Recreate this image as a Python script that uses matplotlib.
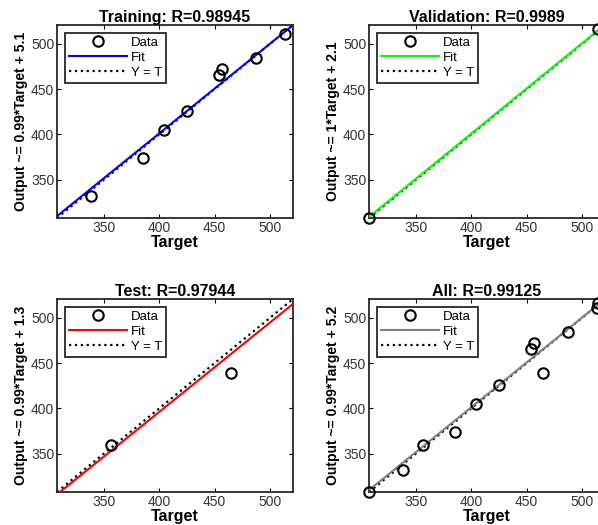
import numpy as np
import matplotlib
matplotlib.use("Agg")
import matplotlib.pyplot as plt

plt.rcParams['font.family'] = ['Liberation Sans', 'DejaVu Sans']

# ------------------------------
# Data
# ------------------------------
train_target = [338.5, 385.3, 404.3, 425.1, 453.7, 457.1, 487.8, 514.1]
train_output = [331.5, 374.1, 404.4, 426.3, 465.9, 472.2, 484.4, 511.4]

val_target = [307.4, 515.0]
val_output = [307.4, 516.6]

test_target = [356.5, 464.7]
test_output = [359.6, 439.6]

all_target = train_target + val_target + test_target
all_output = train_output + val_output + test_output

titles = ['Training: R=0.98945', 'Validation: R=0.9989',
          'Test: R=0.97944', 'All: R=0.99125']
ylabels = ['Output ~= 0.99*Target + 5.1', 'Output ~= 1*Target + 2.1',
           'Output ~= 0.99*Target + 1.3', 'Output ~= 0.99*Target + 5.2']
slopes = [0.99, 0.997, 0.987, 0.99]
intercepts = [5.1, 2.1, 1.3, 5.2]
fit_colors = ['#0000ff', '#00ff00', '#ff0000', '#808080']

lim = (307.4, 521.0)
ticks = [350, 400, 450, 500]

# ------------------------------
# Layout (pixel positions measured on the reference)
# ------------------------------
W, H = 598, 525
boxes = [(57, 25, 236, 193), (369, 25, 236, 193),
         (57, 299, 236, 193), (369, 299, 236, 193)]

fig = plt.figure(figsize=(W / 100, H / 100), dpi=100)

sets = [(train_target, train_output), (val_target, val_output),
        (test_target, test_output), (all_target, all_output)]

for i, (x0, y0, w, h) in enumerate(boxes):
    ax = fig.add_axes([x0 / W, 1 - (y0 + h) / H, w / W, h / H])
    t, o = sets[i]
    xs = np.array(lim)
    ax.plot(t, o, 'o', mfc='none', mec='black', ms=7.5, mew=1.5,
            label='Data', clip_on=False, zorder=4)
    ax.plot(xs, slopes[i] * xs + intercepts[i], '-', color=fit_colors[i],
            lw=1.5, label='Fit', zorder=3)
    ax.plot(xs, xs, ':', color='black', lw=1.6, label='Y = T', zorder=2)
    ax.set_xlim(lim)
    ax.set_ylim(lim)
    ax.set_xticks(ticks)
    ax.set_yticks(ticks)
    ax.tick_params(direction='in', top=True, right=True, length=3,
                   width=0.8, labelsize=10, labelcolor='#333333', pad=2)
    for sp in ax.spines.values():
        sp.set_linewidth(1.3)
        sp.set_color('#262626')
    ax.set_title(titles[i], fontsize=11.5, fontweight='bold', pad=2)
    ax.set_xlabel('Target', fontsize=11.5, fontweight='bold', labelpad=0)
    ax.set_ylabel(ylabels[i], fontsize=10, fontweight='bold', labelpad=2)
    leg = ax.legend(loc='upper left', fontsize=9.5, handlelength=4.4,
                    handletextpad=0.3, labelspacing=0.2, borderpad=0.3,
                    fancybox=False, framealpha=1, borderaxespad=0.6)
    leg.get_frame().set_edgecolor('#262626')
    leg.get_frame().set_linewidth(1.3)

fig.savefig("out.png", dpi=100)
